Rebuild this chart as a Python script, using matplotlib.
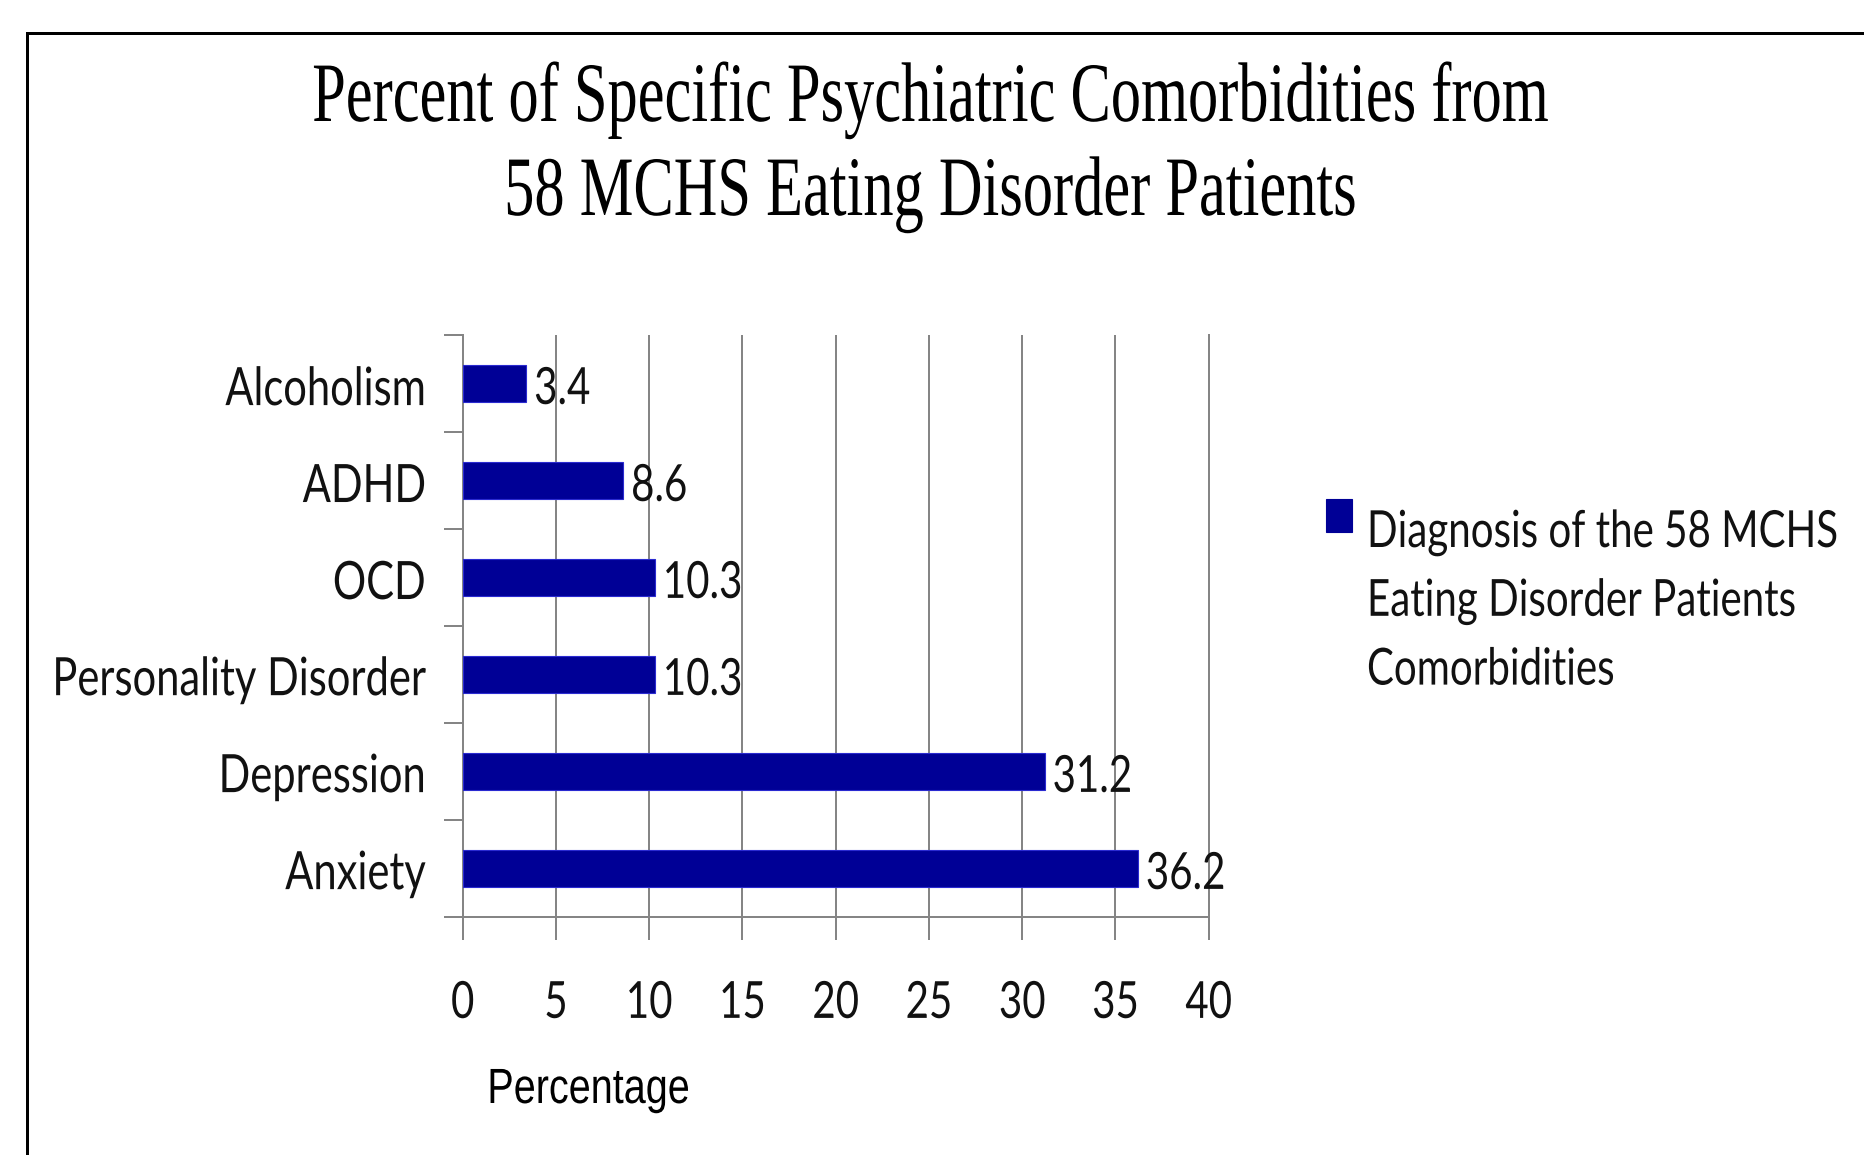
import matplotlib
matplotlib.use("Agg")
import matplotlib.pyplot as plt
import numpy as np
from matplotlib.patheffects import AbstractPathEffect
from matplotlib.transforms import Affine2D
from matplotlib.lines import Line2D

# ---------------- data ----------------
categories = ["Anxiety", "Depression", "Personality Disorder", "OCD", "ADHD", "Alcoholism"]
values = [36.2, 31.2, 10.3, 10.3, 8.6, 3.4]
value_labels = ["36.2", "31.2", "10.3", "10.3", "8.6", "3.4"]
x_ticks = [0, 5, 10, 15, 20, 25, 30, 35, 40]
title_lines = ["Percent of Specific Psychiatric Comorbidities from",
               "58 MCHS Eating Disorder Patients"]
series_label = "Diagnosis of the 58 MCHS\nEating Disorder Patients\nComorbidities"
x_label = "Percentage"

BAR_COLOR = "#000096"
GRID_COLOR = "#858585"
SANS = ["Lato", "DejaVu Sans"]
SERIF = ["Liberation Serif", "DejaVu Serif"]
PX = 72.0 / 100.0  # points per pixel at dpi 100


class Stretch(AbstractPathEffect):
    """Draw text glyphs stretched (the reference text is vertically elongated)."""

    def __init__(self, sx=1.0, sy=1.27, anchor="baseline", dy=0.0):
        super().__init__()
        self.sx, self.sy, self.anchor, self.dy = sx, sy, anchor, dy

    def draw_path(self, renderer, gc, tpath, affine, rgbFace=None):
        ox, oy = affine.transform((0.0, 0.0))
        try:
            bb = tpath.get_extents(affine)
            cx = 0.5 * (bb.x0 + bb.x1)
            cyc = 0.5 * (bb.y0 + bb.y1)
            if not (np.isfinite(cx) and np.isfinite(cyc)):
                cx, cyc = ox, oy
        except Exception:
            cx, cyc = ox, oy
        cy = oy if self.anchor == "baseline" else cyc
        extra = (Affine2D().translate(-cx, -cy).scale(self.sx, self.sy)
                 .translate(cx, cy + self.dy))
        renderer.draw_path(gc, tpath, affine + extra, rgbFace)


fig = plt.figure(figsize=(18.64, 11.55), dpi=100)
fig.patch.set_facecolor("white")

# axes placement (pixel measurements from reference)
ax = fig.add_axes([462.7 / 1864, 1 - 917 / 1155, 746 / 1864, 582 / 1155])
ax.set_facecolor("white")

ypos = np.arange(len(categories))
bars = ax.barh(ypos, values, height=0.39, color=BAR_COLOR, edgecolor="#2a2ad0",
               linewidth=0.8, zorder=3, label=series_label)

ax.set_xlim(0, 40)
ax.set_ylim(-0.5, len(categories) - 0.5)
ax.set_xticks(x_ticks)
ax.set_xticklabels([str(t) for t in x_ticks])
ax.set_yticks(ypos)
ax.set_yticklabels(categories)
ax.set_yticks(np.arange(-0.5, len(categories)), minor=True)

ax.grid(axis="x", color=GRID_COLOR, linewidth=2 * PX, zorder=0)
ax.set_axisbelow(True)
for side in ["left", "bottom", "right"]:
    ax.spines[side].set_color(GRID_COLOR)
    ax.spines[side].set_linewidth(2 * PX)
ax.spines["top"].set_visible(False)

ax.tick_params(axis="y", which="major", length=0, pad=37 * PX, labelsize=30)
ax.tick_params(axis="y", which="minor", length=19 * PX, width=2 * PX, color=GRID_COLOR,
               direction="out")
ax.tick_params(axis="x", which="major", length=23 * PX, width=2 * PX, color=GRID_COLOR,
               direction="out", pad=44 * PX, labelsize=29)

for lbl in ax.get_yticklabels():
    lbl.set_fontfamily(SANS)
    lbl.set_color("#111111")
    lbl.set_path_effects([Stretch(1.0, 1.27, "center", dy=-2)])
for lbl in ax.get_xticklabels():
    lbl.set_fontfamily(SANS)
    lbl.set_color("#111111")
    lbl.set_path_effects([Stretch(1.0, 1.27, "center")])

# value labels
texts = ax.bar_label(bars, labels=value_labels, padding=8 * PX, fontsize=29,
                     color="#111111", family=SANS)
for t in texts:
    t.set_path_effects([Stretch(1.0, 1.27, "center", dy=-5)])

# x axis label (placed left, as in the reference)
ax.set_xlabel(x_label, family=["Liberation Sans", "DejaVu Sans"], fontsize=28.5,
              color="black", ha="left", va="baseline")
ax.xaxis.set_label_coords(0.033, -(1103 - 917) / 582)
ax.xaxis.label.set_path_effects([Stretch(1.0, 1.25, "baseline")])

# title (two lines)
t1 = fig.text(930 / 1864, 1 - 121 / 1155, title_lines[0], ha="center", va="baseline",
              fontsize=43.5, family=SERIF, color="black")
t2 = fig.text(930 / 1864, 1 - 215 / 1155, title_lines[1], ha="center", va="baseline",
              fontsize=43.5, family=SERIF, color="black")
for t in (t1, t2):
    t.set_path_effects([Stretch(1.0, 1.4, "baseline")])

# legend
leg = ax.legend(loc="upper left", bbox_to_anchor=(1326 / 1864, 1 - 517 / 1155),
                bbox_transform=fig.transFigure, frameon=False,
                prop={"family": SANS, "size": 29}, handlelength=26 / 40.3,
                handleheight=36 / 40.3, handletextpad=15 / 40.3, borderpad=0,
                borderaxespad=0, labelspacing=0)
try:
    for col in leg._legend_handle_box.get_children():
        for item in col.get_children():
            item.align = "top"
except Exception:
    pass
for t in leg.get_texts():
    t.set_linespacing(2.06)
    t.set_color("#111111")
    t.set_path_effects([Stretch(1.0, 1.27, "baseline")])
for h in leg.legend_handles:
    h.set_edgecolor(BAR_COLOR)
    h.set_y(h.get_y() + 18 * PX)

# outer frame lines (top and left), as in the reference image
fig.add_artist(Line2D([27 / 1864, 1.0], [1 - 33 / 1155] * 2, transform=fig.transFigure,
                      color="black", linewidth=3 * PX))
fig.add_artist(Line2D([27 / 1864] * 2, [0.0, 1 - 33 / 1155], transform=fig.transFigure,
                      color="black", linewidth=3 * PX))

fig.savefig("out.png", dpi=100, facecolor="white")
